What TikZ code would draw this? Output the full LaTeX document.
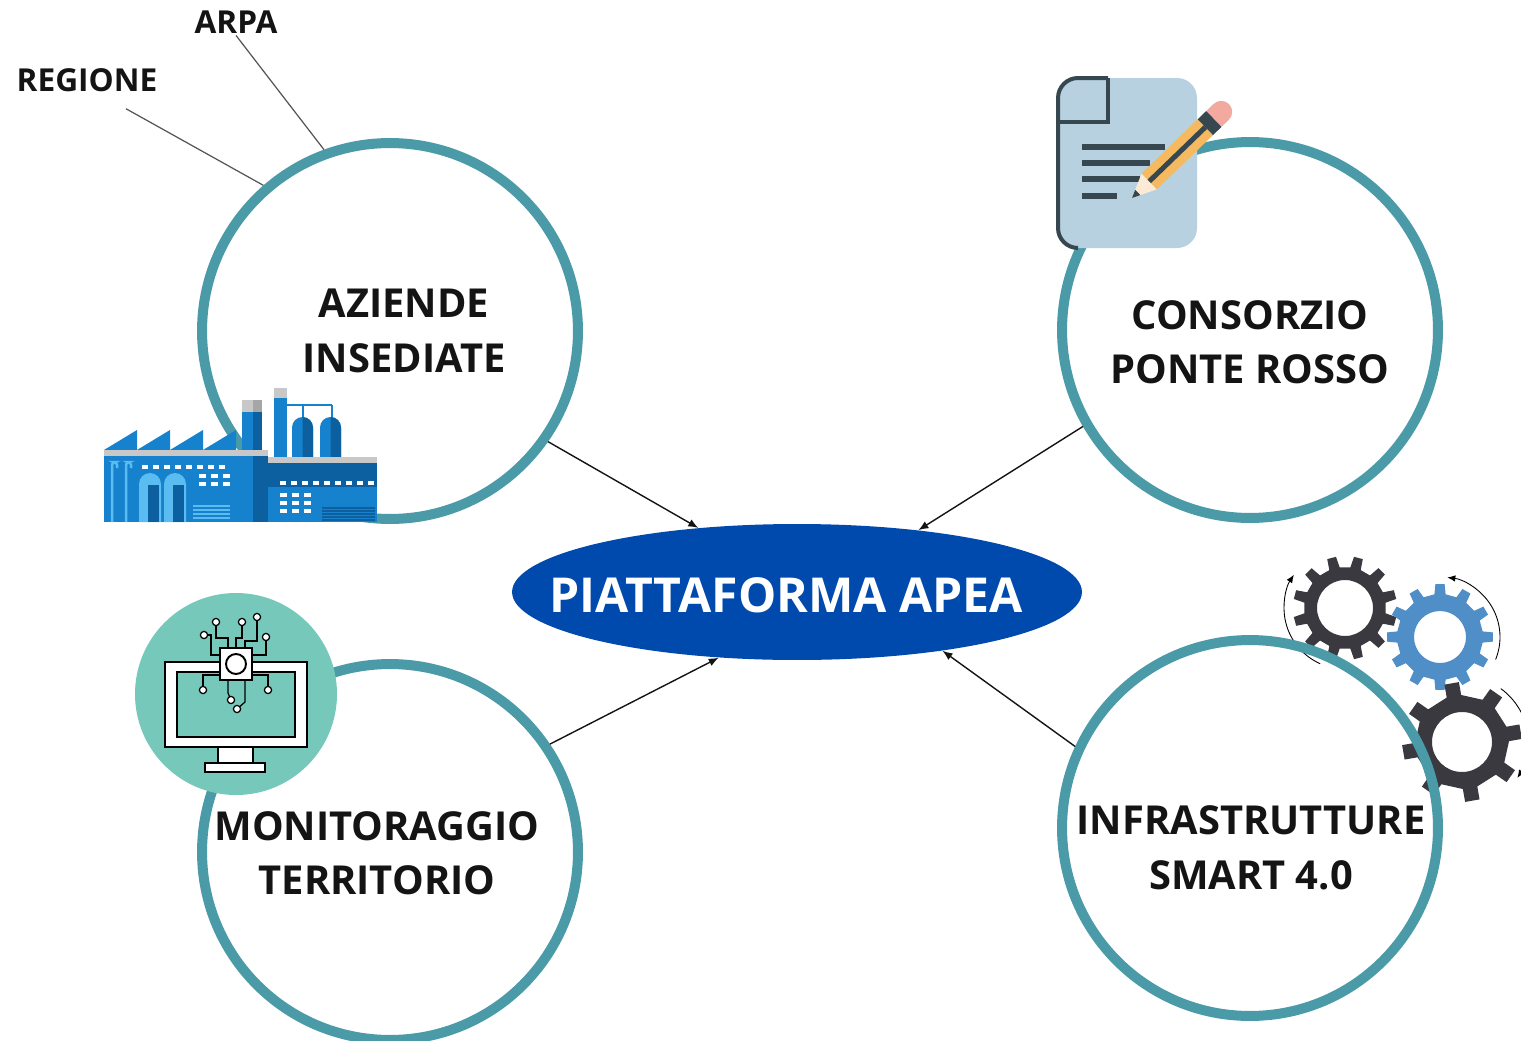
\documentclass[tikz,border=0pt]{standalone}
\usepackage{fontspec}
\setmainfont{Open Sans}
\usepackage{xcolor}
\usepackage{tikz}
\usetikzlibrary{arrows.meta, calc, positioning, shapes.geometric}

\definecolor{ringTeal}{RGB}{75,154,168}
\definecolor{apeaBlue}{RGB}{0,74,173}
\definecolor{inkBlack}{RGB}{20,20,20}
\definecolor{leaderGrey}{RGB}{85,85,85}
\definecolor{factoryBlue}{RGB}{22,130,206}
\definecolor{factoryDark}{RGB}{12,96,160}
\definecolor{factoryLight}{RGB}{90,188,240}
\definecolor{factoryGrey}{RGB}{200,200,200}
\definecolor{sheetBlue}{RGB}{184,209,224}
\definecolor{sheetInk}{RGB}{55,71,79}
\definecolor{pencilBody}{RGB}{245,186,96}
\definecolor{pencilWood}{RGB}{252,234,212}
\definecolor{pencilRubber}{RGB}{242,170,160}
\definecolor{cogDark}{RGB}{58,57,64}
\definecolor{cogBlue}{RGB}{80,142,200}
\definecolor{screenTeal}{RGB}{118,200,186}

\def\px{0.02}

\tikzset{
    ringnode/.style={circle, draw=ringTeal, line width=0.2cm, minimum size=7.52cm, inner sep=0pt},
    ringtext/.style={align=center, text=inkBlack, inner sep=0pt, font=\bfseries\fontsize{22.7}{31}\selectfont},
    tagtext/.style={text=inkBlack, inner sep=1pt, font=\bfseries\fontsize{18}{21}\selectfont},
    plate/.style={ellipse, fill=apeaBlue, minimum width=11.4cm, minimum height=2.72cm, inner sep=0pt},
    platetext/.style={text=white, inner sep=0pt, font=\bfseries\fontsize{27.4}{34}\selectfont},
    feedline/.style={draw=inkBlack, line width=0.8pt, -{Latex[length=2mm,width=1.6mm]}},
    leaderline/.style={draw=leaderGrey, line width=0.7pt},
    spinarrow/.style={draw=black, line width=0.5pt, -{Latex[length=1.6mm,width=1.3mm]}},
    wireline/.style={draw=black, line width=0.7pt},
    padring/.style={draw=black, fill=white, line width=0.7pt}
}

% cog: centre, teeth, body r, tip r, hole r, half tooth at base, half tooth at tip, colour, phase
\newcommand{\cogwheel}[9]{%
    \begin{scope}[shift={#1}]
        \pgfmathsetmacro{\cogStep}{360/#2}
        \fill[#8, even odd rule] ({#9-#6}:#3)
            \foreach \k in {1,...,#2} {
                -- ({#9+(\k-1)*\cogStep-#6}:#3) -- ({#9+(\k-1)*\cogStep-#7}:#4)
                -- ({#9+(\k-1)*\cogStep+#7}:#4) -- ({#9+(\k-1)*\cogStep+#6}:#3)
            } -- cycle (0,0) circle (#5);
    \end{scope}}

\begin{document}
\begin{tikzpicture}[x=\px cm, y=-\px cm]
    \useasboundingbox (0,0) rectangle (1521,1041);

    % Draw rings
    \node[ringnode] (aziende) at (390,331) {};
    \node[ringnode] (consorzio) at (1250,330) {};
    \node[ringnode] (monitoraggio) at (390,852) {};

    % Draw factory
    \foreach \i in {0,...,3}
        \fill[factoryBlue] ({104+33*\i},450) -- ({137+33*\i},430) -- ({137+33*\i},450) -- cycle;
    \fill[factoryBlue] (242,412) rectangle (262,451);
    \fill[factoryDark] (253,412) rectangle (262,451);
    \fill[factoryGrey] (242,400) rectangle (262,412);
    \fill[black!35] (253,400) rectangle (262,412);
    \fill[factoryBlue] (274,398) rectangle (287,457);
    \fill[factoryGrey] (274,388) rectangle (287,398);
    \draw[factoryBlue, line width=0.05cm] (287,405) -- (332,405) (303,405) -- (303,420) (332,405) -- (332,420);
    \foreach \x in {292,320} {
        \fill[factoryBlue] (\x,457) -- (\x,427.5) arc[start angle=180, end angle=360, radius=10.5] -- ({\x+21},457) -- cycle;
        \fill[factoryDark] ({\x+10.5},457) -- ({\x+10.5},417) arc[start angle=270, end angle=360, radius=10.5] -- ({\x+21},457) -- cycle;
    }
    \fill[factoryGrey] (104,450) rectangle (268,456);
    \fill[factoryBlue] (104,456) rectangle (268,522);
    \fill[factoryDark] (253,456) rectangle (268,522);
    \fill[factoryGrey] (268,457) rectangle (377,463);
    \fill[factoryDark] (268,463) rectangle (377,522);
    \fill[factoryBlue] (268,487) rectangle (377,522);
    % pipes and arches
    \foreach \x in {112,126}
        \draw[factoryLight, line width=0.05cm, rounded corners=0.06cm] (\x,522) -- (\x,462) -- ({\x+5},462) -- ({\x+5},468);
    \foreach \x in {139,164} {
        \fill[factoryLight] (\x,522) -- (\x,484) arc[start angle=180, end angle=360, radius=11] -- ({\x+22},522) -- cycle;
        \fill[factoryDark] ({\x+9},485) rectangle ({\x+20},522);
    }
    % windows and vents
    \foreach \x in {142,153,...,225}
        \fill[white] (\x,465) rectangle ({\x+6},469);
    \foreach \x in {199,211,223}
        \foreach \y in {474,482}
            \fill[white] (\x,\y) rectangle ({\x+7},{\y+4});
    \foreach \y in {506,510,...,520}
        \draw[factoryLight, line width=0.025cm] (193,\y) -- (230,\y);
    \foreach \x in {280,291,...,370}
        \fill[white] (\x,481) rectangle ({\x+6},485);
    \foreach \x in {280,292,304}
        \foreach \y in {493,501,509}
            \fill[white] (\x,\y) rectangle ({\x+7},{\y+4});
    \foreach \y in {508,511,...,520}
        \draw[factoryDark, line width=0.025cm] (322,\y) -- (375,\y);

    % Draw sheet with pencil
    \fill[sheetBlue, rounded corners=0.4cm] (1058,78) rectangle (1197,248);
    \draw[sheetInk, line width=0.08cm] (1108,78) -- (1078,78) arc[start angle=270, end angle=180, radius=20]
        -- (1058,228) arc[start angle=180, end angle=90, radius=20];
    \draw[sheetInk, line width=0.08cm] (1108,78) -- (1108,122) -- (1059,122);
    \foreach \y/\e in {147/1165, 163/1150, 179/1140, 196/1117}
        \draw[sheetInk, line width=0.12cm] (1082,\y) -- (\e,\y);
    \begin{scope}[shift={(1132,198)}, rotate=44]
        \fill[pencilWood] (0,0) -- (24,-11) -- (24,11) -- cycle;
        \fill[sheetInk] (0,0) -- (8,-3.7) -- (8,3.7) -- cycle;
        \fill[pencilBody] (24,-11) rectangle (102,11);
        \fill[sheetInk] (24,-2.5) rectangle (102,2.5);
        \fill[sheetInk] (102,-11) rectangle (114,11);
        \fill[pencilRubber] (114,-11) -- (124,-11) arc[start angle=-90, end angle=90, radius=11] -- (114,11) -- cycle;
    \end{scope}

    % Draw monitor badge
    \fill[screenTeal] (236,694) circle (101);
    \filldraw[fill=white, draw=black, line width=1.1pt] (165,662) rectangle (307,747);
    \filldraw[fill=screenTeal, draw=black, line width=1.1pt] (177,672) rectangle (295,737);
    \filldraw[fill=white, draw=black, line width=1.1pt] (218,747) rectangle (253,763);
    \filldraw[fill=white, draw=black, line width=1.1pt] (205,763) rectangle (265,772);
    \draw[wireline] (204,635) -- (211,635) -- (211,655) -- (220,655);
    \draw[wireline] (216,622) -- (216,638) -- (228,638) -- (228,648);
    \draw[wireline] (242,622) -- (242,638) -- (236,638) -- (236,648);
    \draw[wireline] (257,617) -- (257,641) -- (245,641) -- (245,648);
    \draw[wireline] (266,637) -- (266,655) -- (252,655);
    \draw[wireline] (203,690) -- (203,675) -- (220,675);
    \draw[wireline] (268,690) -- (268,675) -- (252,675);
    \draw[wireline] (228,680) -- (228,693) -- (231,700);
    \draw[wireline] (245,680) -- (245,702) -- (237,709);
    \filldraw[fill=white, draw=black, line width=1.1pt] (220,648) rectangle (252,680);
    \draw[black, line width=1.1pt] (236,664) circle (10);
    \foreach \p in {(204,635),(216,622),(242,622),(257,617),(266,637),(203,690),(268,690),(231,700),(237,709)}
        \filldraw[padring] \p circle (3.6);

    % Draw cogs
    \coordinate (cog a) at (1345,608);
    \coordinate (cog b) at (1440,637);
    \coordinate (cog c) at (1462,742);
    \cogwheel{(cog a)}{12}{41}{52}{28}{7.5}{5}{cogDark}{15}
    \cogwheel{(cog b)}{12}{43}{53}{26}{7.5}{5}{cogBlue}{0}
    \cogwheel{(cog c)}{8}{47}{60}{30}{9}{7}{cogDark}{35}
    \draw[spinarrow] ([shift={(114:61)}]cog a) arc[start angle=114, end angle=213, radius=61];
    \draw[spinarrow] ([shift={(22:60)}]cog b) arc[start angle=22, end angle=-83, radius=60];
    \draw[spinarrow] ([shift={(-54:66)}]cog c) arc[start angle=-54, end angle=33, radius=66];

    \node[ringnode] (infrastrutture) at (1250,828) {};

    % Draw central platform
    \node[plate] (apea) at (797,592) {};
    \node[platetext] (apea label) at (786,595) {PIATTAFORMA APEA};

    % Draw ring labels
    \node[ringtext] (aziende label) at (404,331) {AZIENDE\\INSEDIATE};
    \node[ringtext] (consorzio label) at (1250,342) {CONSORZIO\\PONTE ROSSO};
    \node[ringtext] (monitoraggio label) at (377,853) {MONITORAGGIO\\TERRITORIO};
    \node[ringtext] (infrastrutture label) at (1251,848) {INFRASTRUTTURE\\SMART 4.0};

    \node[tagtext] (arpa) at (236,22) {ARPA};
    \node[tagtext] (regione) at (87,80) {REGIONE};
    \draw[leaderline] (arpa.south) -- (aziende.110);
    \draw[leaderline] ([xshift=0.78cm, yshift=-0.3cm]regione.south) -- (aziende.131);

    % Draw arrows into the platform
    \draw[feedline] (aziende.-35) -- (apea.147);
    \draw[feedline] (consorzio.-150) -- (apea.27.5);
    \draw[feedline] (monitoraggio.34) -- (apea.-140);
    \draw[feedline] (infrastrutture.155) -- (apea.-22.6);

\end{tikzpicture}
\end{document}
